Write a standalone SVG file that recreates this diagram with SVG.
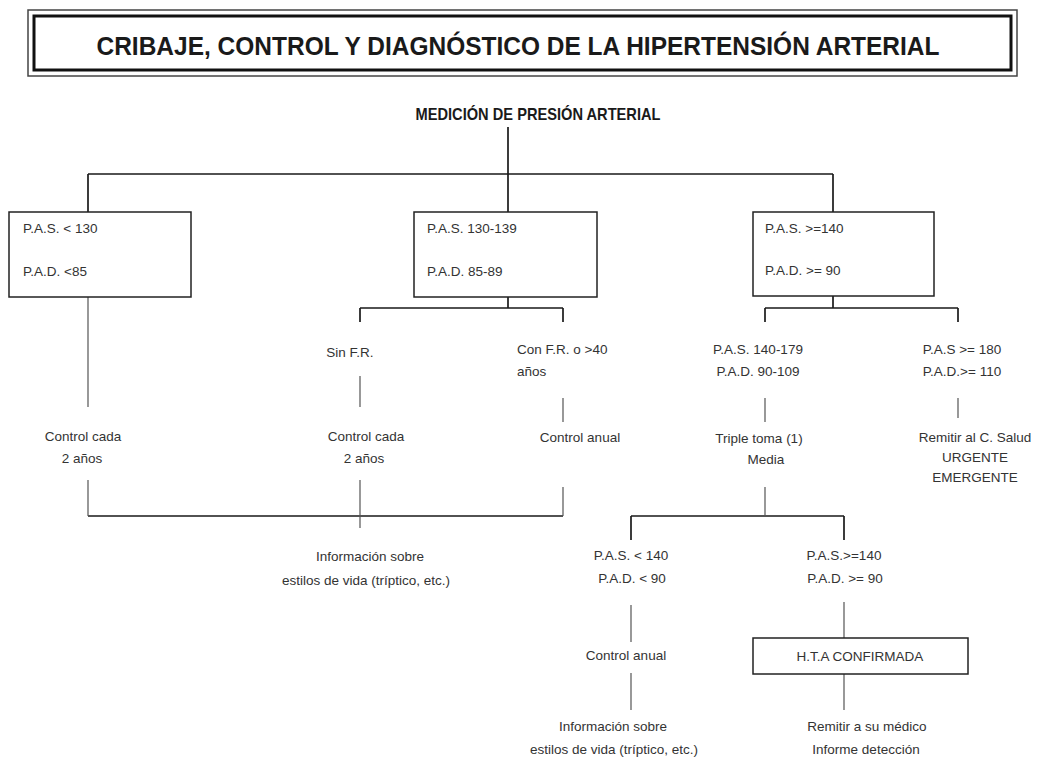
<svg xmlns="http://www.w3.org/2000/svg" width="1038" height="759" viewBox="0 0 1038 759">
<style>
text{font-family:"Liberation Sans",Arial,sans-serif;font-size:13.5px;fill:#333}
.c{text-anchor:middle}
.box{fill:#fff;stroke:#222;stroke-width:1.5}
.ln{stroke:#1a1a1a;stroke-width:1.7;fill:none}
.tn{stroke:#555;stroke-width:1.2;fill:none}
</style>
<rect width="1038" height="759" fill="#fff"/>
<g id="title">
<rect x="28" y="10" width="989" height="66" fill="#fff" stroke="#444" stroke-width="1.5"/>
<rect x="34" y="16" width="977" height="54" fill="none" stroke="#111" stroke-width="3"/>
<text x="518" y="55" text-anchor="middle" textLength="843" lengthAdjust="spacingAndGlyphs" style="fill:#1a1a1a;font-size:26px;font-weight:bold">CRIBAJE, CONTROL Y DIAGNÓSTICO DE LA HIPERTENSIÓN ARTERIAL</text>
</g>
<g id="connectors">
<path class="ln" d="M508,127V212M88,174H833M88,174V212M833,174V212"/>
<path class="ln" d="M508,297V308M360,308H563M360,308V322M563,308V322"/>
<path class="ln" d="M833,296V308M765,308H958M765,308V322M958,308V322"/>
<path class="ln" d="M88,516H563M631,516H844M631,516V540M844,516V540"/>
<path class="tn" d="M88,297V407M88,480V516M360,376V407M360,480V516M360,516V528"/>
<path class="tn" d="M563,398V422M563,487V516M765,398V422M765,487V516M958,398V418"/>
<path class="tn" d="M631,605V642M631,673V710M844,602V638M844,674V710"/>
</g>
<g id="root"><text x="538" y="120" text-anchor="middle" textLength="245" lengthAdjust="spacingAndGlyphs" style="font-size:17px;font-weight:bold;fill:#1a1a1a">MEDICIÓN DE PRESIÓN ARTERIAL</text></g>
<g id="box-pas130"><rect class="box" x="9" y="212" width="182" height="85"/><text x="23" y="233">P.A.S. &lt; 130</text><text x="23" y="276">P.A.D. &lt;85</text></g>
<g id="box-pas130-139"><rect class="box" x="414" y="212" width="183" height="85"/><text x="427" y="233">P.A.S. 130-139</text><text x="427" y="276">P.A.D. 85-89</text></g>
<g id="box-pas140"><rect class="box" x="753" y="212" width="181" height="84"/><text x="765" y="233">P.A.S. &gt;=140</text><text x="765" y="275">P.A.D. &gt;= 90</text></g>
<g id="control-2-left"><text class="c" x="83" y="441">Control cada</text><text class="c" x="82" y="463">2 años</text></g>
<g id="sin-fr"><text class="c" x="350" y="357">Sin F.R.</text></g>
<g id="control-2-mid"><text class="c" x="366" y="441">Control cada</text><text class="c" x="364" y="463">2 años</text></g>
<g id="con-fr"><text x="517" y="354">Con F.R. o &gt;40</text><text x="517" y="376">años</text></g>
<g id="control-anual-1"><text class="c" x="580" y="442">Control anual</text></g>
<g id="info-1"><text class="c" x="370" y="561">Información sobre</text><text class="c" x="366" y="585">estilos de vida (tríptico, etc.)</text></g>
<g id="pas140-179"><text class="c" x="758" y="354">P.A.S. 140-179</text><text class="c" x="758" y="376">P.A.D. 90-109</text></g>
<g id="triple-toma"><text class="c" x="759" y="443">Triple toma (1)</text><text class="c" x="766" y="464">Media</text></g>
<g id="pas180"><text class="c" x="962" y="354">P.A.S &gt;= 180</text><text class="c" x="962" y="376">P.A.D.&gt;= 110</text></g>
<g id="remitir-urgente"><text class="c" x="975" y="442">Remitir al C. Salud</text><text class="c" x="975" y="462">URGENTE</text><text class="c" x="975" y="482">EMERGENTE</text></g>
<g id="pas-lt140"><text class="c" x="631" y="560">P.A.S. &lt; 140</text><text class="c" x="632" y="583">P.A.D. &lt; 90</text></g>
<g id="pas-ge140"><text class="c" x="844" y="560">P.A.S.&gt;=140</text><text class="c" x="845" y="583">P.A.D. &gt;= 90</text></g>
<g id="control-anual-2"><text class="c" x="626" y="660">Control anual</text></g>
<g id="info-2"><text class="c" x="613" y="731">Información sobre</text><text class="c" x="614" y="754">estilos de vida (tríptico, etc.)</text></g>
<g id="hta"><rect class="box" x="753" y="638" width="215" height="36"/><text class="c" x="860" y="661">H.T.A CONFIRMADA</text></g>
<g id="remitir-medico"><text class="c" x="867" y="731">Remitir a su médico</text><text class="c" x="866" y="754">Informe detección</text></g>
</svg>
